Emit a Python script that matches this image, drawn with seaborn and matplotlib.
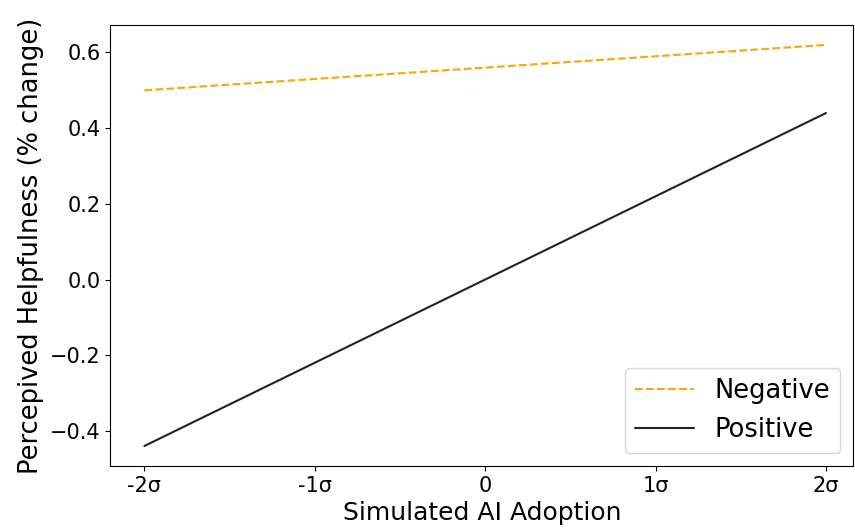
import matplotlib
matplotlib.use("Agg")
import matplotlib.pyplot as plt
import seaborn as sns
import pandas as pd

x_vals = [-2, 2]
negative_vals = [0.50, 0.62]
positive_vals = [-0.44, 0.44]
x_ticks = [-2, -1, 0, 1, 2]
x_tick_labels = ["-2σ", "-1σ", "0", "1σ", "2σ"]

sns.set_style("ticks", {"axes.edgecolor": "black", "text.color": "black",
                        "axes.labelcolor": "black", "xtick.color": "black",
                        "ytick.color": "black"})
plt.rcParams['font.family'] = ['DejaVu Sans']

fig, ax = plt.subplots(figsize=(8.55, 5.29), dpi=100)

df_neg = pd.DataFrame({"x": x_vals, "y": negative_vals})
df_pos = pd.DataFrame({"x": x_vals, "y": positive_vals})

sns.lineplot(data=df_neg, x="x", y="y", ax=ax, color="orange", linestyle="--", label="Negative", linewidth=1.5)
sns.lineplot(data=df_pos, x="x", y="y", ax=ax, color="#222222", linestyle="-", label="Positive", linewidth=1.5)

ax.set_xticks(x_ticks)
ax.set_xticklabels(x_tick_labels)
ax.tick_params(axis="both", labelsize=15)
ax.set_xlabel("Simulated AI Adoption", fontsize=18)
ax.set_ylabel("Percepived Helpfulness (% change)", fontsize=18.5)
ax.set_ylim(-0.493, 0.673)
ax.set_xlim(-2.2, 2.16)
ax.legend(loc="lower right", fontsize=18.5, handlelength=2.3)

fig.subplots_adjust(left=0.129, right=0.998, top=0.953, bottom=0.119)
fig.savefig("out.png", dpi=100)
